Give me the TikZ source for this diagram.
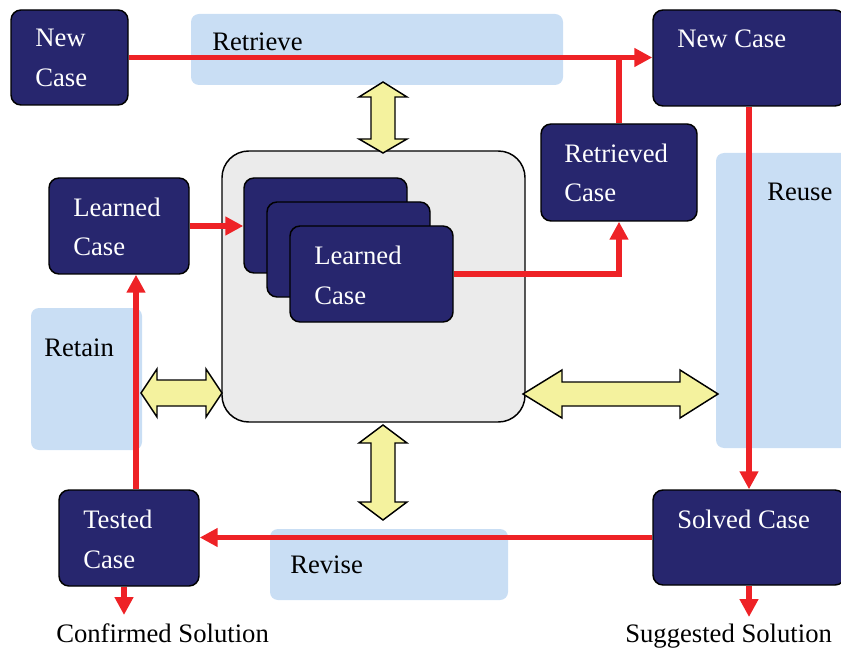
\documentclass[tikz,border=0pt]{standalone}
\usepackage{fontspec}
\setmainfont{Liberation Serif}
\usetikzlibrary{arrows.meta,fit}
\definecolor{navy}{HTML}{27266E}
\definecolor{cbrred}{HTML}{EE2226}
\definecolor{pale}{HTML}{F4F29E}
\definecolor{bandblue}{HTML}{C9DEF4}
\definecolor{coregray}{HTML}{EBEBEB}

\begin{document}
\begin{tikzpicture}[x=0.75pt,y=-0.75pt,
  casebox/.style={draw=black, line width=1.1pt, fill=navy, rounded corners=7.5pt, inner sep=0pt},
  corebox/.style={draw=black, line width=1.1pt, fill=coregray, rounded corners=20pt, inner sep=0pt},
  band/.style={fill=bandblue, rounded corners=6pt, inner sep=0pt},
  flow/.style={draw=cbrred, line width=4.2pt, -{Triangle[length=13.5pt,width=13.5pt]}},
  flowline/.style={draw=cbrred, line width=4.2pt},
  boxtxt/.style={text=white, font=\fontsize{20}{24}\selectfont, anchor=base west, inner sep=0pt},
  bandtxt/.style={text=black, font=\fontsize{20}{24}\selectfont, anchor=base west, inner sep=0pt},
  twoway/.style={draw=black, line width=1.1pt, fill=pale, line join=miter},
]
\useasboundingbox (0,0) rectangle (841,648);
\clip (0,0) rectangle (841,648);

% phase bands
\node[band, fit={(191,14)(563,85)}] (bretrieve) {};
\node[band, fit={(716,153)(850,448)}] (breuse) {};
\node[band, fit={(31,308)(142,450)}] (bretain) {};
\node[band, fit={(270,529)(508,600)}] (brevise) {};
\node[bandtxt] (tretrieve) at (212,51) {Retrieve};
\node[bandtxt] (treuse) at (767,201) {Reuse};
\node[bandtxt] (tretain) at (44,356) {Retain};
\node[bandtxt] (trevise) at (290,573) {Revise};

% case base
\node[corebox, fit={(222,151)(525,422)}] (core) {};
\node[casebox, fit={(244,178)(407,273)}] (lc1) {};
\node[casebox, fit={(267,202)(430,297)}] (lc2) {};
\node[casebox, fit={(290,226)(453,322)}] (lc3) {};
\node[boxtxt] (lc3a) at (314,265) {Learned};
\node[boxtxt] (lc3b) at (314,304) {Case};

% case boxes
\node[casebox, fit={(11,10)(128,105)}] (newA) {};
\node[boxtxt] (newAa) at (35,47) {New};
\node[boxtxt] (newAb) at (35,87) {Case};
\node[casebox, fit={(653,10)(845,106)}] (newB) {};
\node[boxtxt] (newBa) at (677,48) {New Case};
\node[casebox, fit={(541,124)(697,221)}] (rc) {};
\node[boxtxt] (rca) at (564,163) {Retrieved};
\node[boxtxt] (rcb) at (564,202) {Case};
\node[casebox, fit={(49,178)(189,274)}] (lcl) {};
\node[boxtxt] (lcla) at (73,217) {Learned};
\node[boxtxt] (lclb) at (73,256) {Case};
\node[casebox, fit={(59,490)(199,586)}] (tc) {};
\node[boxtxt] (tca) at (83,528) {Tested};
\node[boxtxt] (tcb) at (83,568) {Case};
\node[casebox, fit={(653,490)(845,585)}] (sc) {};
\node[boxtxt] (sca) at (677,528) {Solved Case};

% outputs
\node[bandtxt] (conf) at (56,642) {Confirmed Solution};
\node[bandtxt] (sugg) at (625,642) {Suggested Solution};
\coordinate (retx) at (136,0);
\coordinate (confx) at (124,615);
\coordinate (suggx) at (749,617);

% two-way exchanges with the case base
\draw[twoway] (383,82) -- (407,97) -- (395,97) -- (395,139) -- (407,139) -- (383,153)
  -- (359,139) -- (371,139) -- (371,97) -- (359,97) -- cycle;
\draw[twoway] (383,425) -- (407,443) -- (395,443) -- (395,502) -- (407,502) -- (383,520)
  -- (359,502) -- (371,502) -- (371,443) -- (359,443) -- cycle;
\draw[twoway] (141,393) -- (157,369) -- (157,380) -- (206,380) -- (206,369) -- (222,393)
  -- (206,417) -- (206,406) -- (157,406) -- (157,417) -- cycle;
\draw[twoway] (523,394) -- (562,370) -- (562,382) -- (680,382) -- (680,370) -- (718,394)
  -- (680,418) -- (680,406) -- (562,406) -- (562,418) -- cycle;

% cycle flow
\draw[flow] (newA.east) -- (newA.east -| newB.west);
\draw[flowline] (rc.north) -- (rc.north |- newA.east);
\draw[flow] (lc3.east) -| (rc.south);
\draw[flow] (lcl.east) -- (lcl.east -| lc1.west);
\draw[flow] (newB.south) -- (sc.north);
\draw[flow] (sc.west) -- (sc.west -| tc.east);
\draw[flow] (tc.north -| retx) -- (lcl.south -| retx);
\draw[flow] (tc.south -| confx) -- (confx);
\draw[flow] (sc.south -| suggx) -- (suggx);
\end{tikzpicture}
\end{document}
